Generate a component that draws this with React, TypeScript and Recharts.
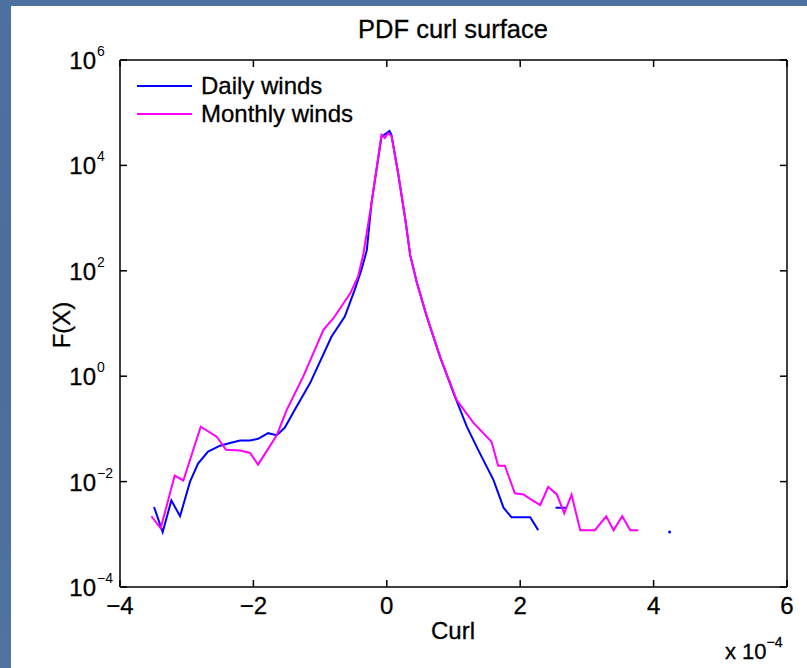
import React from "react";
import { LineChart, Line, XAxis, YAxis, Legend } from "recharts";

// curl values in units of 1e-4
const dailyCurl = [
  -3.49, -3.36, -3.23, -3.1, -2.95, -2.83, -2.68, -2.5, -2.35, -2.2, -2.05, -1.93,
  -1.78, -1.65, -1.53, -1.38, -1.15, -0.83, -0.63, -0.48, -0.38, -0.3, -0.23, -0.08,
  0.04, 0.07, 0.17, 0.28, 0.35, 0.45, 0.6, 0.8, 1.0, 1.2, 1.37, 1.6, 1.75, 1.87,
  2.15, 2.27, 2.4, 2.53, 2.69, 2.8, 4.1, 4.24, 4.4,
];
const dailyPdf = [
  3.3e-3, 1.1e-3, 4.4e-3, 2.2e-3, 1.0e-2, 2.2e-2, 3.7e-2, 4.8e-2, 5.4e-2, 6.0e-2, 6.0e-2, 6.5e-2,
  8.3e-2, 7.6e-2, 0.105, 0.23, 0.74, 5.6, 13.5, 44, 105, 245, 1900, 35000,
  45000, 38000, 7100, 900, 200, 60, 13.5, 2.3, 0.48, 0.11, 0.04, 0.0107, 3.2e-3, 2.1e-3,
  2.1e-3, 1.2e-3, null, 3.2e-3, 3.2e-3, null, null, 1.1e-3, null,
];

const monthlyCurl = [
  -3.53, -3.39, -3.18, -3.05, -2.79, -2.55, -2.41, -2.2, -2.05, -1.93, -1.65, -1.5,
  -1.25, -0.95, -0.8, -0.55, -0.43, -0.35, -0.23, -0.08, -0.03, 0.02, 0.07, 0.17,
  0.28, 0.35, 0.45, 0.6, 0.8, 1.05, 1.3, 1.57, 1.67, 1.77, 1.92, 2.05, 2.17, 2.3,
  2.42, 2.55, 2.66, 2.77, 2.9, 3.12, 3.29, 3.4, 3.53, 3.65, 3.77,
];
const monthlyPdf = [
  2.2e-3, 1.3e-3, 1.3e-2, 1.05e-2, 0.11, 0.071, 0.04, 0.039, 0.035, 0.021, 0.076, 0.23,
  1.0, 7.6, 12.6, 37, 78, 214, 1900, 38000, 33000, 41000, 36000, 7100,
  900, 200, 60, 13.5, 2.3, 0.35, 0.13, 0.057, 0.02, 0.02, 6.0e-3, 5.7e-3, 4.5e-3, 3.6e-3,
  7.9e-3, 5.7e-3, 2.5e-3, 5.6e-3, 1.2e-3, 1.2e-3, 2.2e-3, 1.2e-3, 2.2e-3, 1.2e-3, 1.2e-3,
];

const xTicks = [-4, -2, 0, 2, 4, 6];
const yTicks = [1e-4, 1e-2, 1, 1e2, 1e4, 1e6];

const daily = dailyCurl.map((x, i) => ({ x, y: dailyPdf[i] }));
const monthly = monthlyCurl.map((x, i) => ({ x, y: monthlyPdf[i] }));

const FONT = "'Liberation Sans', Arial, Helvetica, sans-serif";
const TICK_LEN = 7;
const heavy = { WebkitTextStroke: "0.3px #000" } as React.CSSProperties;

const minus = (v: number) => (v < 0 ? "\u2212" + Math.abs(v) : String(v));

function BottomTick(props: any) {
  const { x, y, payload } = props;
  return (
    <g>
      <line x1={x} y1={y} x2={x} y2={y - TICK_LEN} stroke="#000" strokeWidth={1.5} />
      <text
        x={x}
        y={y + 27}
        textAnchor="middle"
        fontSize={24}
        fontFamily={FONT}
        fill="#000"
        stroke="#000"
        strokeWidth={0.3}
      >
        {minus(payload.value)}
      </text>
    </g>
  );
}

function TopTick(props: any) {
  const { x, y } = props;
  return <line x1={x} y1={y} x2={x} y2={y + TICK_LEN} stroke="#000" strokeWidth={1.5} />;
}

function LeftTick(props: any) {
  const { x, y, payload } = props;
  const exp = Math.round(Math.log10(payload.value));
  return (
    <g>
      <line x1={x} y1={y} x2={x + TICK_LEN} y2={y} stroke="#000" strokeWidth={1.5} />
      <text
        x={x - 24}
        y={y + 9}
        textAnchor="end"
        fontSize={24}
        fontFamily={FONT}
        fill="#000"
        stroke="#000"
        strokeWidth={0.3}
      >
        10
      </text>
      <text x={x - 23} y={y - 4} textAnchor="start" fontSize={14} fontFamily={FONT} fill="#000">
        {minus(exp)}
      </text>
    </g>
  );
}

function RightTick(props: any) {
  const { x, y } = props;
  return <line x1={x} y1={y} x2={x - TICK_LEN} y2={y} stroke="#000" strokeWidth={1.5} />;
}

function IsolatedDot(props: any) {
  const { cx, cy, index, stroke } = props;
  const prev = dailyPdf[index - 1];
  const next = dailyPdf[index + 1];
  if (dailyPdf[index] == null || prev != null || next != null || cx == null || cy == null) {
    return <g key={"d" + index} />;
  }
  return <circle key={"d" + index} cx={cx} cy={cy} r={1.5} fill={stroke} stroke="none" />;
}

function LegendBox(props: any) {
  const items = props.payload || [];
  return (
    <div style={{ fontFamily: FONT, fontSize: 24, color: "#000", ...heavy }}>
      {items.map((it: any) => (
        <div
          key={it.value}
          style={{ display: "flex", alignItems: "center", height: 28, lineHeight: "28px" }}
        >
          <div style={{ width: 55, height: 2, background: it.color, marginRight: 9 }} />
          <span>{it.value}</span>
        </div>
      ))}
    </div>
  );
}

export default function App() {
  return (
    <div
      style={{
        position: "absolute",
        left: 0,
        top: 0,
        width: 807,
        height: 668,
        background: "linear-gradient(180deg, #4d71a0 0%, #4a6e9c 50%, #4f74a2 100%)",
        overflow: "hidden",
      }}
    >
      <div style={{ position: "absolute", left: 11, top: 6, right: 0, bottom: 0, background: "#fff" }} />
      <div style={{ position: "absolute", left: 0, top: 0 }}>
        <LineChart width={807} height={668} margin={{ top: 59, right: 19, bottom: 80, left: 119 }}>
          <XAxis
            xAxisId="b"
            dataKey="x"
            type="number"
            domain={[-4, 6]}
            ticks={xTicks}
            allowDataOverflow
            tick={<BottomTick />}
            tickLine={false}
            tickSize={0}
            tickMargin={0}
            height={1}
            axisLine={{ stroke: "#000", strokeWidth: 1.5 }}
          />
          <XAxis
            xAxisId="t"
            orientation="top"
            dataKey="x"
            type="number"
            domain={[-4, 6]}
            ticks={xTicks}
            allowDataOverflow
            tick={<TopTick />}
            tickLine={false}
            tickSize={0}
            tickMargin={0}
            height={1}
            axisLine={{ stroke: "#000", strokeWidth: 1.5 }}
          />
          <YAxis
            yAxisId="l"
            type="number"
            scale="log"
            domain={[1e-4, 1e6]}
            ticks={yTicks}
            allowDataOverflow
            tick={<LeftTick />}
            tickLine={false}
            tickSize={0}
            tickMargin={0}
            width={1}
            axisLine={{ stroke: "#000", strokeWidth: 1.5 }}
          />
          <YAxis
            yAxisId="r"
            orientation="right"
            type="number"
            scale="log"
            domain={[1e-4, 1e6]}
            ticks={yTicks}
            allowDataOverflow
            tick={<RightTick />}
            tickLine={false}
            tickSize={0}
            tickMargin={0}
            width={1}
            axisLine={{ stroke: "#000", strokeWidth: 1.5 }}
          />
          <Legend
            layout="vertical"
            align="center"
            verticalAlign="middle"
            content={<LegendBox />}
            wrapperStyle={{ position: "absolute", left: 137, top: 72, width: 280 }}
          />
          <Line
            xAxisId="b"
            yAxisId="l"
            data={daily}
            dataKey="y"
            name="Daily winds"
            stroke="#0000ff"
            strokeWidth={2}
            dot={<IsolatedDot />}
            activeDot={false}
            connectNulls={false}
            type="linear"
            isAnimationActive={false}
          />
          <Line
            xAxisId="b"
            yAxisId="l"
            data={monthly}
            dataKey="y"
            name="Monthly winds"
            stroke="#ff00ff"
            strokeWidth={2}
            dot={false}
            activeDot={false}
            type="linear"
            isAnimationActive={false}
          />
        </LineChart>
      </div>
      <div
        style={{
          position: "absolute",
          left: 253,
          width: 400,
          top: 15,
          textAlign: "center",
          fontFamily: FONT,
          fontSize: 25.5,
          color: "#000",
          ...heavy,
        }}
      >
        PDF curl surface
      </div>
      <div
        style={{
          position: "absolute",
          left: 353,
          width: 200,
          top: 617,
          textAlign: "center",
          fontFamily: FONT,
          fontSize: 24,
          color: "#000",
          ...heavy,
        }}
      >
        Curl
      </div>
      <div
        style={{
          position: "absolute",
          left: 62,
          top: 325,
          transform: "translate(-50%, -50%) rotate(-90deg)",
          fontFamily: FONT,
          fontSize: 24,
          color: "#000",
          whiteSpace: "nowrap",
          ...heavy,
        }}
      >
        F(X)
      </div>
      <div
        style={{
          position: "absolute",
          left: 725,
          top: 639,
          fontFamily: FONT,
          fontSize: 22,
          color: "#000",
          whiteSpace: "nowrap",
          ...heavy,
        }}
      >
        x 10<span style={{ fontSize: 14, position: "relative", top: -12 }}>{"\u2212"}4</span>
      </div>
    </div>
  );
}
